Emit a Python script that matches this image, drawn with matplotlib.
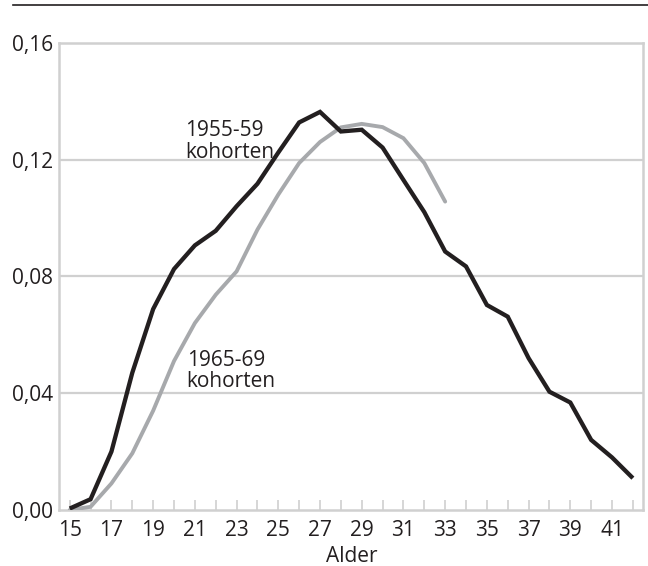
import matplotlib
matplotlib.use("Agg")
import matplotlib.pyplot as plt
from matplotlib.lines import Line2D
from matplotlib.ticker import FixedLocator, FuncFormatter

plt.rcParams['font.family'] = ['Open Sans', 'DejaVu Sans']

ages = list(range(15, 43))
cohort_1955_59 = [0.0005, 0.0037, 0.020, 0.047, 0.0688, 0.0825, 0.0906, 0.0956, 0.104, 0.1117,
                  0.1224, 0.1327, 0.1363, 0.1296, 0.1302, 0.1241, 0.113, 0.102, 0.0885, 0.0834,
                  0.0702, 0.0662, 0.052, 0.0405, 0.0368, 0.024, 0.018, 0.0109]
ages_1965 = list(range(15, 34))
cohort_1965_69 = [0.000, 0.0011, 0.0091, 0.0194, 0.034, 0.051, 0.0640, 0.0737, 0.0817, 0.096,
                  0.108, 0.1188, 0.126, 0.1310, 0.1322, 0.1311, 0.1273, 0.1188, 0.1056]
yticks = [0.00, 0.04, 0.08, 0.12, 0.16]
xticklabels_shown = list(range(15, 42, 2))

GRID = '#d0d0d0'
TXT = '#231f20'
FS = 15

fig = plt.figure(figsize=(6.48, 5.66), dpi=100)
ax = fig.add_axes([59.3/648, 1-510/566, (643.3-59.3)/648, (510-42.7)/566])

ax.plot(ages_1965, cohort_1965_69, color='#a7a9ac', lw=2.8, solid_capstyle='round',
        solid_joinstyle='miter', zorder=3)
ax.plot(ages, cohort_1955_59, color='#231f20', lw=3.1, solid_capstyle='butt',
        solid_joinstyle='miter', zorder=4)

ax.set_xlim(14.5, 42.5)
ax.set_ylim(0, 0.16)

for y in yticks[1:-1]:
    ax.axhline(y, color=GRID, lw=1.6, zorder=1)

for s in ax.spines.values():
    s.set_color(GRID)
    s.set_linewidth(1.8)

ax.set_yticks(yticks)
ax.set_yticklabels([f"{v:.2f}".replace('.', ',') for v in yticks])
ax.tick_params(axis='y', length=0, pad=4.6, labelsize=FS, labelcolor=TXT)

ax.xaxis.set_major_locator(FixedLocator(ages))
ax.xaxis.set_major_formatter(FuncFormatter(lambda v, p: str(int(v)) if int(v) in xticklabels_shown else ''))
ax.tick_params(axis='x', direction='in', length=7.5, width=1.2, color=GRID, pad=7,
               labelsize=FS, labelcolor=TXT)
ax.set_xlabel('Alder', fontsize=FS, color=TXT, labelpad=3.5)

ax.text(20.53, 0.1280, '1955-59', fontsize=FS, color=TXT, ha='left', va='baseline', zorder=5)
ax.text(20.53, 0.1205, 'kohorten', fontsize=FS, color=TXT, ha='left', va='baseline', zorder=5)
ax.text(20.61, 0.0493, '1965-69', fontsize=FS, color=TXT, ha='left', va='baseline', zorder=5)
ax.text(20.61, 0.0422, 'kohorten', fontsize=FS, color=TXT, ha='left', va='baseline', zorder=5)

fig.add_artist(Line2D([12.7/648, 1.0], [1-4.5/566, 1-4.5/566], color=TXT, lw=1.2,
                      transform=fig.transFigure))

fig.savefig('out.png', dpi=100, facecolor='white')
